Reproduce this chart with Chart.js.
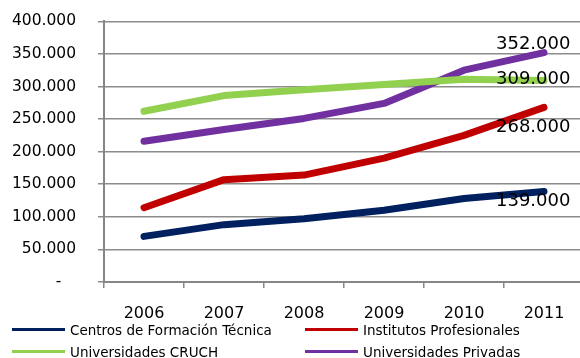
<!DOCTYPE html>
<html>
<head>
<meta charset="utf-8">
<script src="https://cdn.jsdelivr.net/npm/chart.js@4"></script>
<style>
  html, body { margin: 0; padding: 0; background: #fff; overflow: hidden; }
  #wrap { position: relative; width: 600px; height: 358px; overflow: hidden; }
  #grafico { position: absolute; left: 0; top: -10px; }
  #leyenda { position: absolute; left: 0; top: 0; font-family: "DejaVu Sans", sans-serif; font-size: 13.5px; color: #000; }
  .item { position: absolute; white-space: nowrap; }
  .item span.linea { position: absolute; height: 3px; width: 53px; top: 6px; left: 0; }
  .item span.texto { position: absolute; left: 58px; top: 0; }
</style>
</head>
<body>
<div id="wrap">
  <canvas id="grafico" width="600" height="368"></canvas>
  <div id="leyenda"></div>
</div>
<script>
// Datos
const anios = ["2006", "2007", "2008", "2009", "2010", "2011"];
const cft = [70000, 88000, 97000, 110000, 128000, 139000];
const ip = [114000, 157000, 164000, 190000, 225000, 268000];
const cruch = [262000, 286000, 295000, 303000, 311000, 309000];
const privadas = [216000, 234000, 251000, 274000, 325000, 352000];
const nombres = ["Centros de Formación Técnica", "Institutos Profesionales", "Universidades CRUCH", "Universidades Privadas"];
const colores = ["#002060", "#C00000", "#92D050", "#7030A0"];
const series = [cft, ip, cruch, privadas];

// Desplazamiento vertical de las etiquetas del último punto
const etiquetaDy = [10, 20, -1, -8];

function formato(v) {
    if (v === 0) return "-   ";
    return v.toLocaleString("de-DE");
}

// Etiquetas de valor en 2011
const etiquetasFinales = {
    id: "etiquetasFinales",
    afterDatasetsDraw(chart) {
        const c = chart.ctx;
        c.save();
        c.font = "18px 'DejaVu Sans'";
        c.fillStyle = "#000";
        c.textBaseline = "middle";
        c.textAlign = "left";
        chart.data.datasets.forEach((ds, i) => {
            const meta = chart.getDatasetMeta(i);
            const p = meta.data[meta.data.length - 1];
            const v = ds.data[ds.data.length - 1];
            c.fillText(formato(v), p.x - 48, p.y + etiquetaDy[i]);
        });
        c.restore();
    }
};

const ctx = document.getElementById("grafico").getContext("2d");
new Chart(ctx, {
    type: "line",
    data: {
        labels: anios,
        datasets: series.map((s, i) => ({
            label: nombres[i],
            data: s,
            borderColor: colores[i],
            backgroundColor: colores[i],
            borderWidth: 7,
            borderCapStyle: "round",
            borderJoinStyle: "round",
            pointRadius: 0,
            tension: 0
        }))
    },
    options: {
        responsive: false,
        animation: false,
        layout: { padding: { left: 0, top: 1, right: 16, bottom: 0 } },
        plugins: { legend: { display: false }, tooltip: { enabled: false } },
        scales: {
            x: {
                offset: true,
                afterFit: s => { s.height = 76; },
                grid: { offset: true, drawOnChartArea: false, drawTicks: true, tickLength: 6, color: "#868686", lineWidth: 1.5 },
                border: { color: "#868686", width: 2 },
                ticks: { padding: 16, color: "#000", font: { family: "DejaVu Sans", size: 16 } }
            },
            y: {
                min: 0,
                max: 400000,
                afterFit: s => { s.width = 104; },
                grid: { color: "#8c8c8c", lineWidth: 1.5, drawTicks: true, tickLength: 6 },
                border: { color: "#868686", width: 2 },
                ticks: {
                    stepSize: 50000,
                    padding: 22,
                    color: "#000",
                    font: { family: "DejaVu Sans", size: 15.5 },
                    callback: v => formato(v)
                }
            }
        }
    },
    plugins: [etiquetasFinales]
});

// Leyenda en dos columnas
const leyenda = document.getElementById("leyenda");
const posLeyenda = [[12, 322], [305, 322], [12, 344], [305, 344]];
nombres.forEach((n, i) => {
    const d = document.createElement("div");
    d.className = "item";
    d.style.left = posLeyenda[i][0] + "px";
    d.style.top = posLeyenda[i][1] + "px";
    d.innerHTML = `<span class="linea" style="background:${colores[i]}"></span><span class="texto">${n}</span>`;
    leyenda.appendChild(d);
});
</script>
</body>
</html>
